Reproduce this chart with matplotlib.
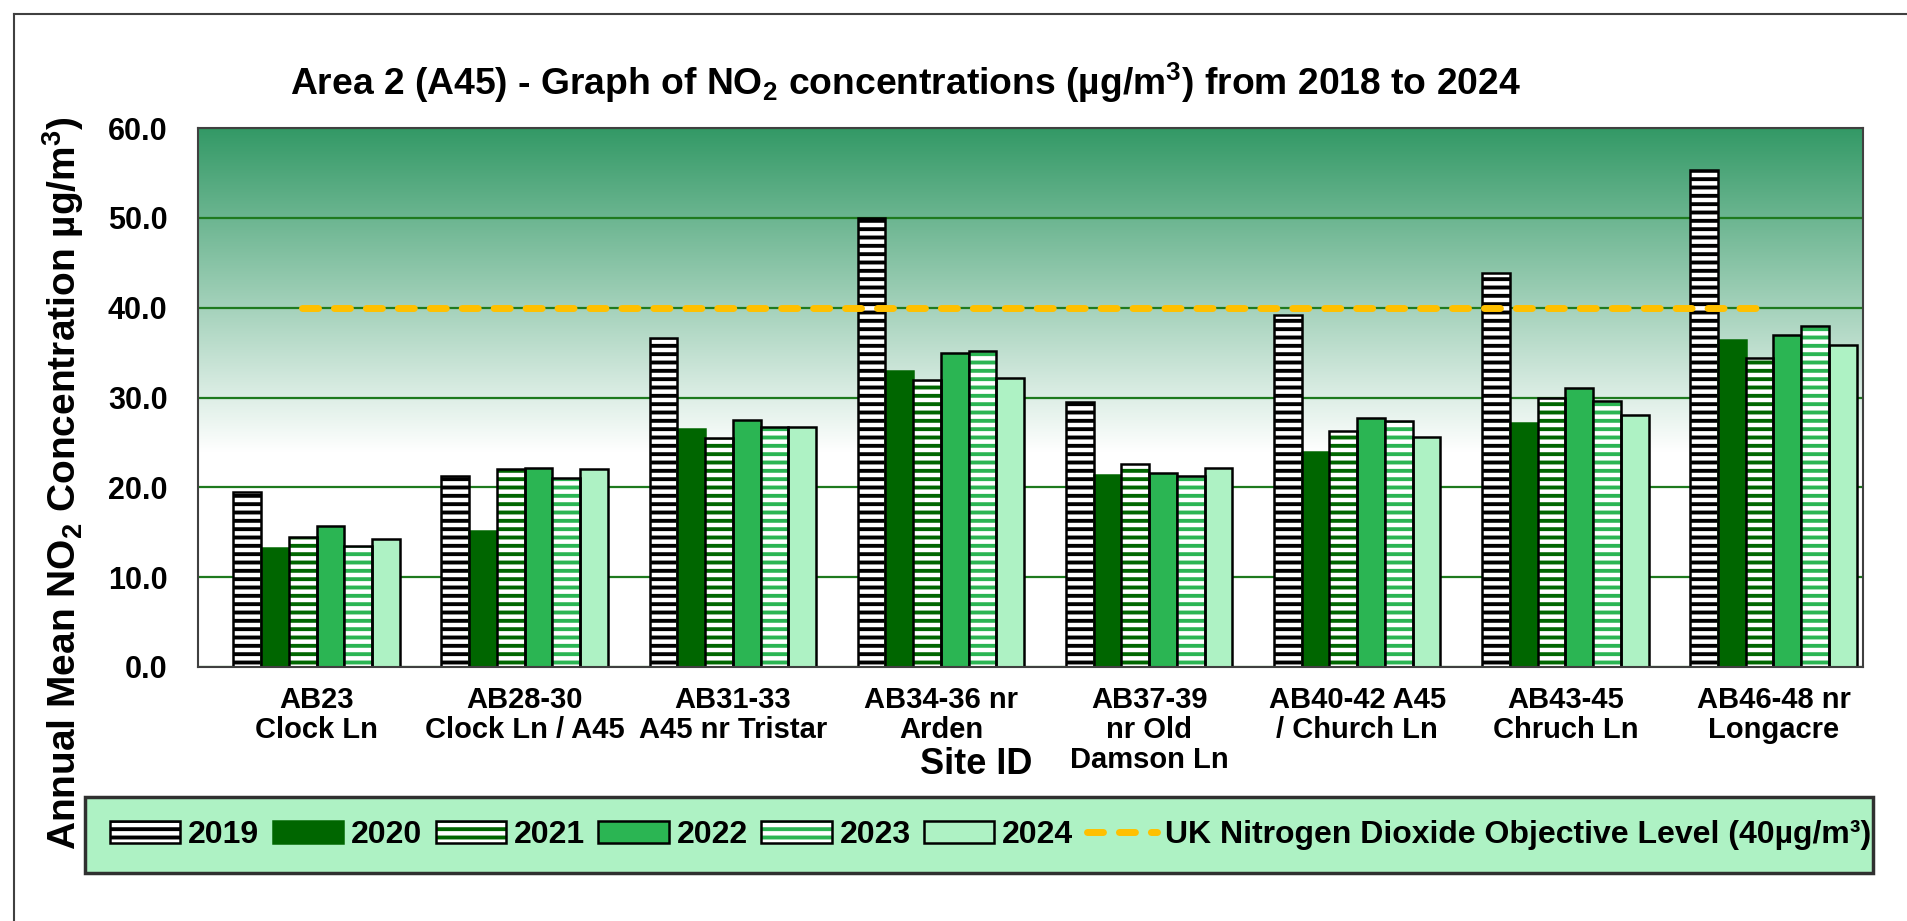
import numpy as np
import matplotlib
matplotlib.use("Agg")
import matplotlib.pyplot as plt
from matplotlib.patches import Patch, Rectangle
from matplotlib.lines import Line2D
from matplotlib.colors import to_rgb
from matplotlib.transforms import ScaledTranslation

plt.rcParams['font.family'] = ['Liberation Sans', 'DejaVu Sans']
plt.rcParams['font.weight'] = 'bold'
plt.rcParams['mathtext.default'] = 'regular'
plt.rcParams['hatch.linewidth'] = 2.8

# ---------------- data ----------------
sites = ["AB23\nClock Ln", "AB28-30\nClock Ln / A45", "AB31-33\nA45 nr Tristar",
         "AB34-36 nr\nArden", "AB37-39\nnr Old\nDamson Ln", "AB40-42 A45\n/ Church Ln",
         "AB43-45\nChruch Ln", "AB46-48 nr\nLongacre"]
years = ["2019", "2020", "2021", "2022", "2023", "2024"]
v2019 = [19.5, 21.3, 36.6, 50.0, 29.5, 39.2, 43.9, 55.3]
v2020 = [13.3, 15.1, 26.5, 32.9, 21.4, 23.9, 27.2, 36.4]
v2021 = [14.5, 22.0, 25.5, 31.9, 22.6, 26.3, 29.9, 34.4]
v2022 = [15.7, 22.1, 27.5, 34.9, 21.6, 27.7, 31.1, 37.0]
v2023 = [13.5, 21.0, 26.7, 35.2, 21.3, 27.4, 29.6, 38.0]
v2024 = [14.3, 22.0, 26.7, 32.2, 22.2, 25.6, 28.1, 35.8]
objective = [40, 40, 40, 40, 40, 40, 40, 40]
objective_label = "UK Nitrogen Dioxide Objective Level (40µg/m³)"
yticks = [0, 10, 20, 30, 40, 50, 60]

series = [v2019, v2020, v2021, v2022, v2023, v2024]

# ---------------- styles ----------------
DARK = '#006600'
MID = '#2BB553'
MINT = '#AEF2C4'
styles = [
    dict(face='white', hatch_col='black', hatch='--', edge='black'),
    dict(face=DARK, hatch_col=None, hatch=None, edge=DARK),
    dict(face='white', hatch_col=DARK, hatch='--', edge='black'),
    dict(face=MID, hatch_col=None, hatch=None, edge='black'),
    dict(face='white', hatch_col=MID, hatch='--', edge='black'),
    dict(face=MINT, hatch_col=None, hatch=None, edge='black'),
]

fig = plt.figure(figsize=(19.07, 9.21), dpi=100)
ax = fig.add_axes([0.1038, 0.2758, 0.8731, 0.5852])
xlim = (-0.57, 7.43)
ax.set_xlim(*xlim)
ax.set_ylim(0, 60)

# gradient background
top = np.array(to_rgb('#339966'))
yy = np.linspace(0, 60, 600)
t = np.clip((yy - 24) / 36.0, 0, 1)[:, None]
grad = (1 - t) * np.ones(3) + t * top
img = np.repeat(grad[:, None, :], 2, axis=1)
ax.imshow(img, extent=(xlim[0], xlim[1], 0, 60), origin='lower', aspect='auto',
          zorder=0, interpolation='bilinear')

ax.set_axisbelow('line')
ax.yaxis.grid(True, color='#1E7A1E', lw=1.6, zorder=1)
ax.xaxis.grid(False)

x = np.arange(len(sites))
w = 0.8 / 6
handles = []
for k, (vals, st) in enumerate(zip(series, styles)):
    pos = x - 0.4 + w * (k + 0.5)
    if st['hatch']:
        ax.bar(pos, vals, w, color=st['face'], edgecolor=st['hatch_col'],
               hatch=st['hatch'], linewidth=0, zorder=2)
        ax.bar(pos, vals, w, fill=False, edgecolor=st['edge'], linewidth=1.8, zorder=2.1)
        h = (Patch(facecolor=st['face'], edgecolor=st['hatch_col'], hatch=st['hatch'], linewidth=0),
             Patch(fill=False, edgecolor=st['edge'], linewidth=1.8))
    else:
        ax.bar(pos, vals, w, color=st['face'], edgecolor=st['edge'], linewidth=1.8, zorder=2)
        h = Patch(facecolor=st['face'], edgecolor=st['edge'], linewidth=1.8)
    handles.append(h)

shift = ScaledTranslation(-15 / 100, 0, fig.dpi_scale_trans)
ln, = ax.plot(x, objective, color='#FFC000', lw=5, dashes=(2.3, 2.3),
              dash_capstyle='round', zorder=3, transform=ax.transData + shift)
handles.append(ln)
labels = years + [objective_label]

ax.set_yticks(yticks)
ax.set_yticklabels([f"{v:.1f}" for v in yticks], fontsize=22, fontweight='bold')
ax.set_xticks(x)
ax.set_xticklabels(sites, fontsize=21, fontweight='bold', linespacing=1.08)
ax.tick_params(axis='both', length=0)
ax.tick_params(axis='y', pad=22)
ax.tick_params(axis='x', pad=14)
for s in ax.spines.values():
    s.set_color('#404040')
    s.set_linewidth(1.5)
    s.set_zorder(4)

fig.text(0.4746, 0.91, "Area 2 (A45) - Graph of NO$_2$ concentrations (µg/m$^3$) from 2018 to 2024",
         ha='center', va='center', fontsize=26.8, fontweight='bold')
fig.text(0.033, 0.475, "Annual Mean NO$_2$ Concentration µg/m$^3$)", rotation=90,
         ha='center', va='center', fontsize=28, fontweight='bold')
fig.text(0.512, 0.170, "Site ID", ha='center', va='center', fontsize=26, fontweight='bold')

# legend box
fig.add_artist(Rectangle((85 / 1907, 1 - 873 / 921), (1873 - 85) / 1907, 76 / 921,
                         transform=fig.transFigure, facecolor=MINT, edgecolor='#303030',
                         lw=2.5, zorder=0))
leg = fig.legend(handles, labels, loc='center', bbox_to_anchor=(0.5195, 0.0934), ncol=7,
                 prop=dict(weight='bold', size=23), frameon=False,
                 handlelength=2.2, handleheight=0.7, handletextpad=0.25, columnspacing=0.42,
                 borderpad=0.2)

# outer frame (left & top)
fig.add_artist(Line2D([14/1907, 14/1907], [0, 1 - 14/921], transform=fig.transFigure,
                      color='#404040', lw=1.5))
fig.add_artist(Line2D([14/1907, 1], [1 - 14/921, 1 - 14/921], transform=fig.transFigure,
                      color='#404040', lw=1.5))

fig.savefig("out.png", dpi=100)
